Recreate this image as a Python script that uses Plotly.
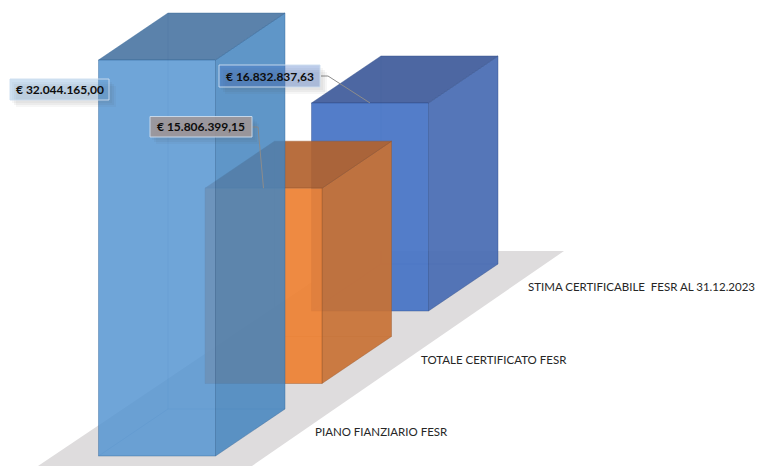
import plotly.graph_objects as go

# ---- data ----
categories = ["PIANO FIANZIARIO FESR", "TOTALE CERTIFICATO FESR",
              "STIMA CERTIFICABILE  FESR AL 31.12.2023"]
values = [32044165.00, 15806399.15, 16832837.63]
value_labels = ["€ 32.044.165,00", "€ 15.806.399,15", "€ 16.832.837,63"]

W, H = 760, 466
EUR_PER_PX = values[0] / 396.0
BAR_W, DX, DY = 117.0, 69.5, 47.0       # front width, oblique depth offset
STEP_X, STEP_Y = 106.5, 72.5            # shift between categories
X0, BASE = 98.5, 456.0                  # first bar, front-left-bottom


def Y(px):
    """pixel row -> value-axis units"""
    return (BASE - px) * EUR_PER_PX


def corner(i, across, depth, value):
    """oblique projection of a point of bar i"""
    x = X0 + i * STEP_X + across * BAR_W + depth * DX
    y = value + (i * STEP_Y + depth * DY) * EUR_PER_PX
    return x, y


def poly(i, pts):
    xs, ys = zip(*[corner(i, *p) for p in pts])
    return list(xs) + [xs[0]], list(ys) + [ys[0]]


styles = [
    dict(front="rgba(86,149,209,0.85)", side="rgba(67,132,190,0.85)",
         top="rgba(62,108,156,0.85)", line="rgba(50,100,150,0.4)"),
    dict(front="rgba(237,128,50,0.92)", side="rgba(200,113,52,0.92)",
         top="rgba(178,98,46,0.92)", line="rgba(150,85,40,0.4)"),
    dict(front="rgba(68,114,196,0.92)", side="rgba(70,106,178,0.92)",
         top="rgba(62,90,154,0.92)", line="rgba(45,75,135,0.4)"),
]

fig = go.Figure()


def face(xs, ys, fill, line):
    fig.add_trace(go.Scatter(x=xs, y=ys, mode="lines", fill="toself", fillcolor=fill,
                             line=dict(color=line, width=1), hoverinfo="skip",
                             showlegend=False))


# floor band
face([38, 252, 564, 358, 38], [Y(466), Y(466), Y(251), Y(251), Y(466)],
     "rgb(222,220,221)", "rgba(0,0,0,0)")

# bars, farthest first
for i in [2, 1, 0]:
    v, s = values[i], styles[i]
    fig.add_trace(go.Scatter(
        x=[corner(i, 0, 1, 0)[0], corner(i, 0, 1, v)[0], None,
           corner(i, 0, 1, 0)[0], corner(i, 1, 1, 0)[0], None,
           corner(i, 0, 0, 0)[0], corner(i, 0, 1, 0)[0]],
        y=[corner(i, 0, 1, 0)[1], corner(i, 0, 1, v)[1], None,
           corner(i, 0, 1, 0)[1], corner(i, 1, 1, 0)[1], None,
           corner(i, 0, 0, 0)[1], corner(i, 0, 1, 0)[1]],
        mode="lines", line=dict(color=s["line"], width=1), opacity=0.6,
        hoverinfo="skip", showlegend=False))
    face(*poly(i, [(1, 0, 0), (1, 1, 0), (1, 1, v), (1, 0, v)]), s["side"], s["line"])
    face(*poly(i, [(0, 0, v), (1, 0, v), (1, 1, v), (0, 1, v)]), s["top"], s["line"])
    face(*poly(i, [(0, 0, 0), (1, 0, 0), (1, 0, v), (0, 0, v)]), s["front"], s["line"])

# leader lines
for i, (sx, ex) in {1: (252, 258), 2: (321, 328)}.items():
    ax, ay = corner(i, 0.5, 0, values[i])
    sy = {1: 127, 2: 76}[i]
    fig.add_trace(go.Scatter(x=[sx, ex, ax], y=[Y(sy), Y(sy), ay], mode="lines",
                             line=dict(color="rgb(140,140,140)", width=1),
                             hoverinfo="skip", showlegend=False))

shapes, annotations = [], []
boxes = {0: (10, 79, 109, 100, "rgba(111,165,216,0.35)"),
         1: (150, 116.5, 252, 137, "rgba(160,150,150,0.88)"),
         2: (219, 65, 320, 87, "rgba(68,114,196,0.36)")}
for i, (x0, y0, x1, y1, fill) in boxes.items():
    for off, alpha in ((7, 0.05), (5, 0.06), (3, 0.05)):   # soft drop shadow
        shapes.append(dict(type="rect", xref="x", yref="y", x0=x0 + off - 1, x1=x1 + off,
                           y0=Y(y0 + off), y1=Y(y1 + off),
                           fillcolor=f"rgba(70,70,70,{alpha})", line=dict(width=0)))
    shapes.append(dict(type="rect", xref="x", yref="y", x0=x0, x1=x1, y0=Y(y0), y1=Y(y1),
                       fillcolor=fill, line=dict(color="rgba(205,222,240,0.9)", width=1)))
    annotations.append(dict(x=(x0 + x1) / 2, y=Y((y0 + y1) / 2), xref="x", yref="y",
                            text=f"<b>{value_labels[i]}</b>", showarrow=False,
                            font=dict(family="Lato", size=12, color="#0d0d0d")))

cat_pos = {0: (313, 431), 1: (419, 359), 2: (526, 286)}
for i, (x, y) in cat_pos.items():
    annotations.append(dict(x=x, y=Y(y), xref="x", yref="y", xanchor="left", text=categories[i],
                            showarrow=False,
                            font=dict(family="Lato", size=11.5, color="#262626")))

fig.update_layout(
    width=W, height=H, margin=dict(l=0, r=0, t=0, b=0),
    paper_bgcolor="white", plot_bgcolor="white", showlegend=False,
    xaxis=dict(range=[0, W], visible=False, fixedrange=True),
    yaxis=dict(range=[Y(H), Y(0)], visible=False, fixedrange=True),
    shapes=shapes, annotations=annotations,
)
fig.write_html("out.html", config={"displayModeBar": False},
               post_script="document.body.style.margin='0';document.body.style.overflow='hidden';")
